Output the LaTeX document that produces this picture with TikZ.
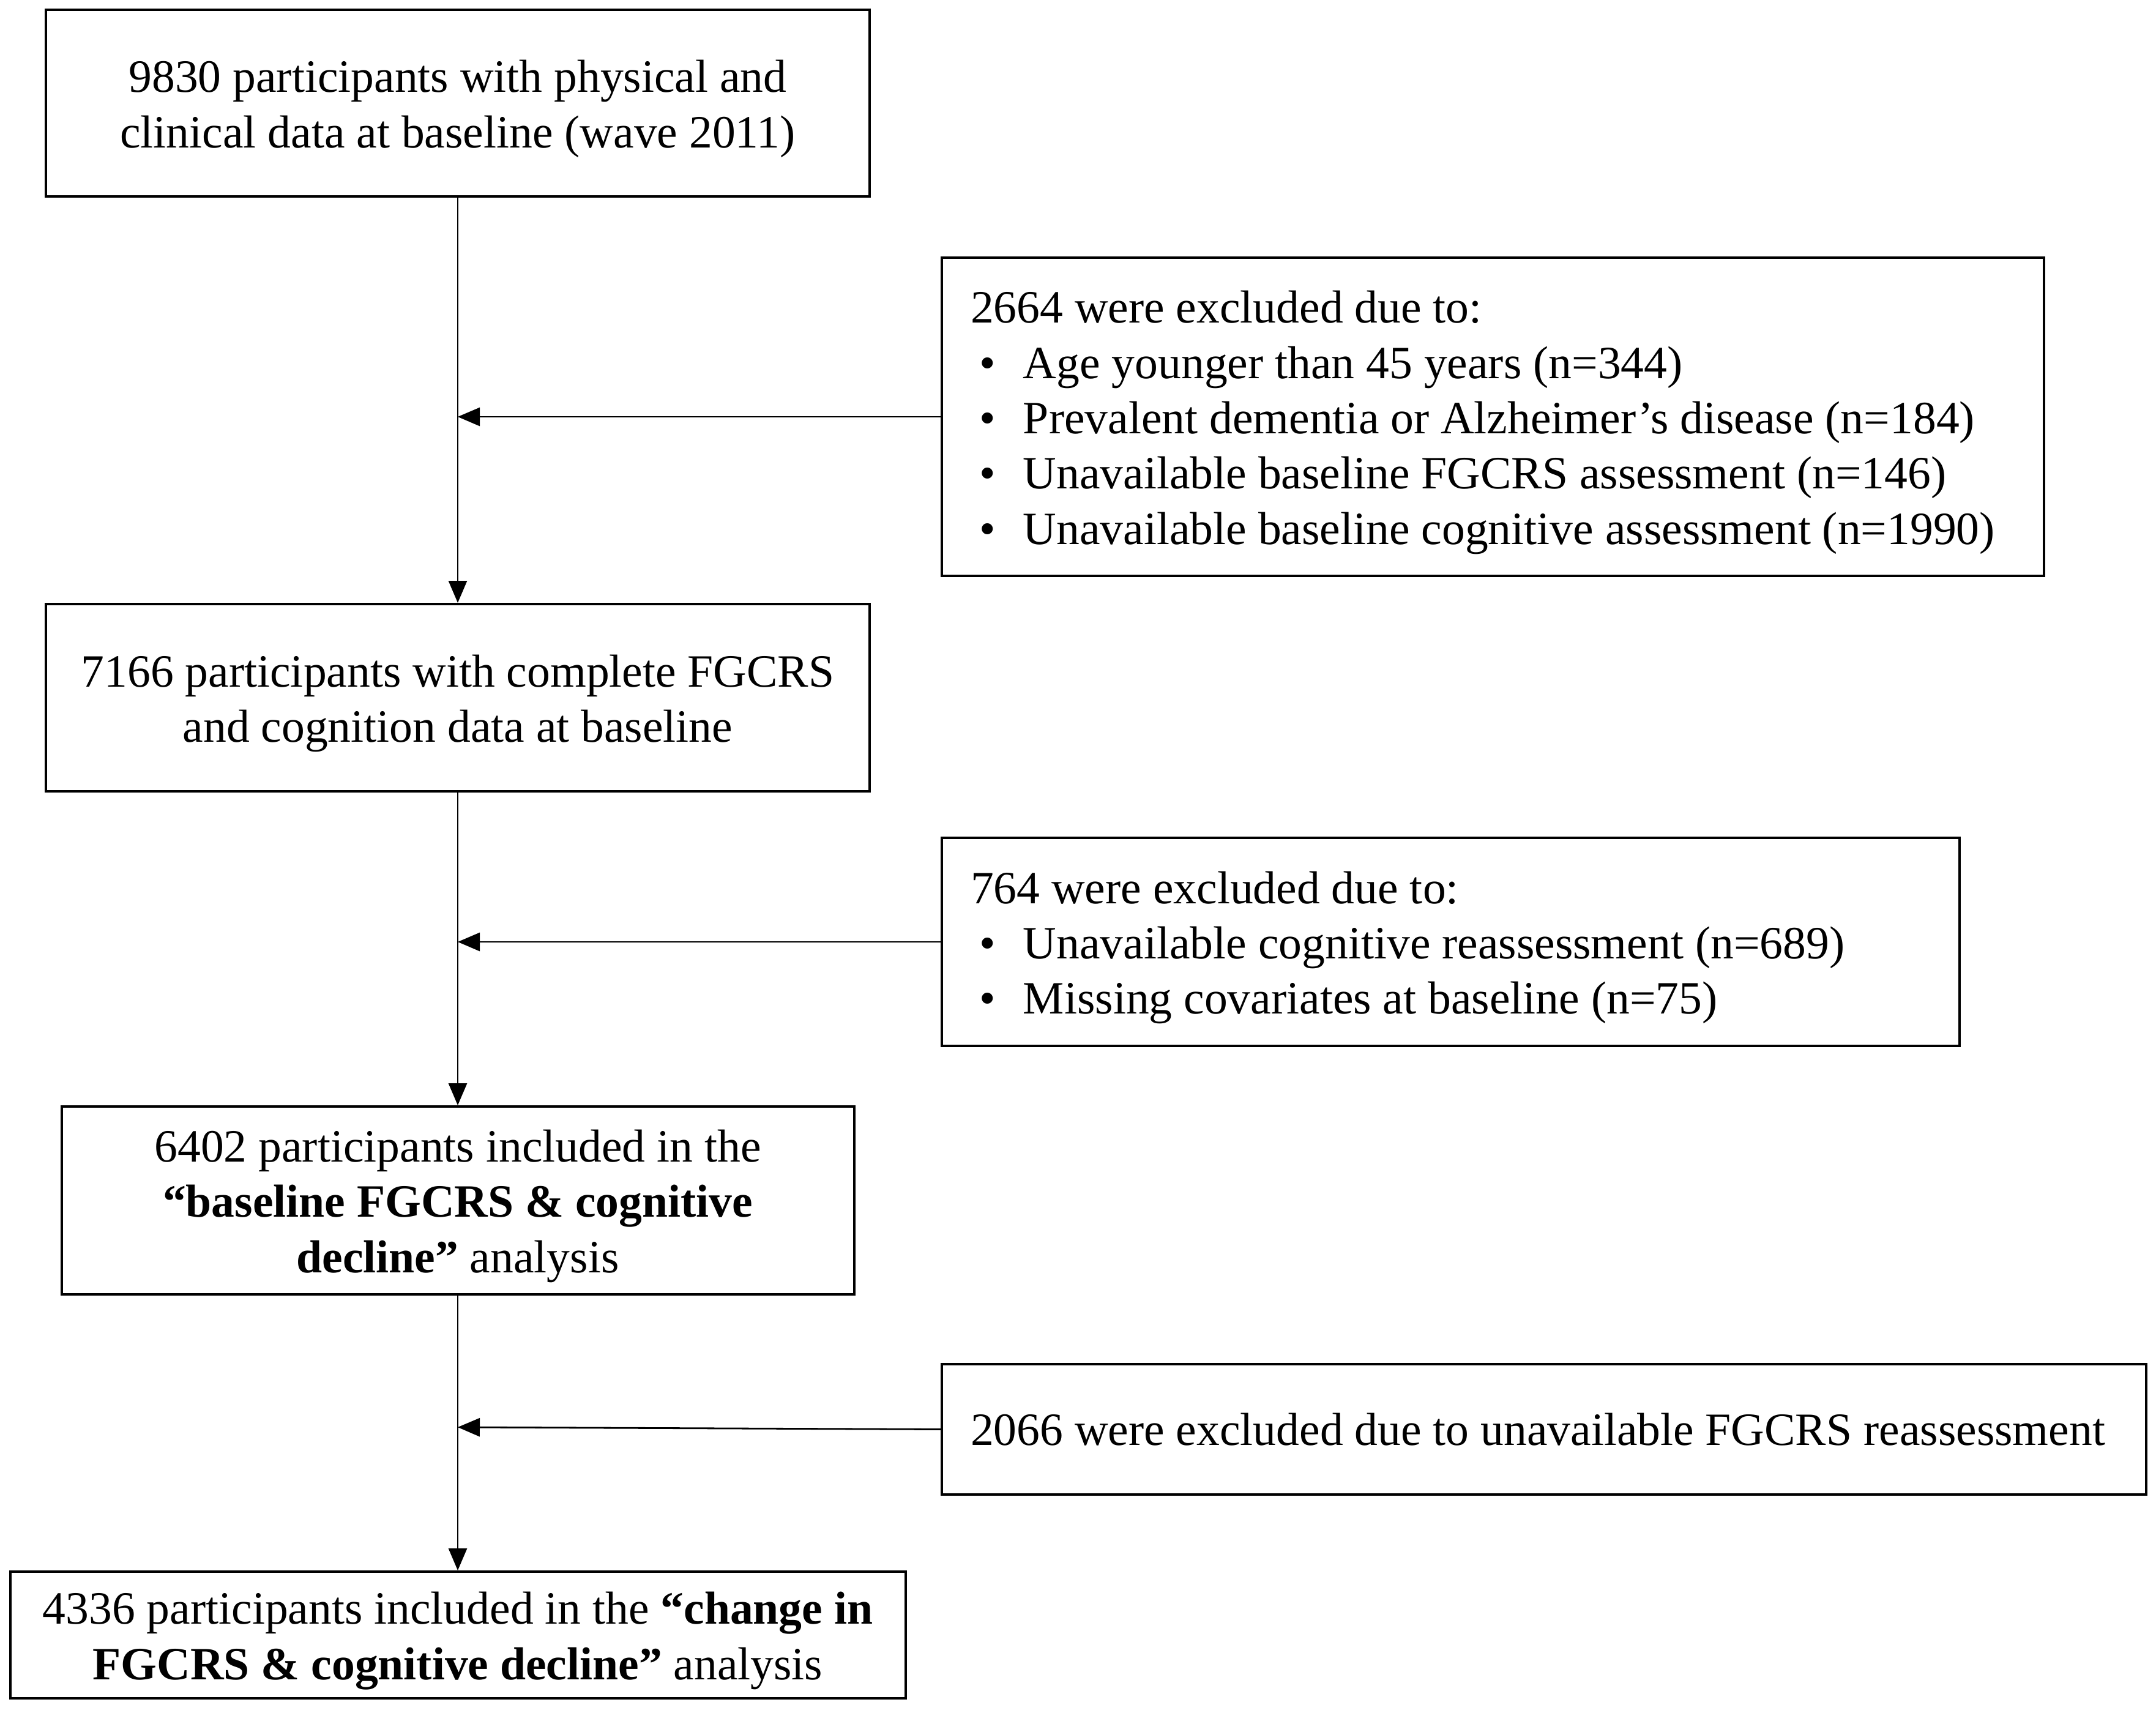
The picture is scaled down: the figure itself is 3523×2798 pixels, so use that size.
\documentclass[tikz,border=0pt]{standalone}
\usepackage{fontspec}
\setmainfont{Liberation Serif}
\usetikzlibrary{arrows.meta}
\begin{document}
\begin{tikzpicture}[x=0.25pt,y=-0.25pt,
  box/.style={draw=black,line width=1pt,inner sep=0pt,align=center,
    font=\fontsize{18.9pt}{22.6pt}\selectfont},
  exbox/.style={draw=black,line width=1pt,inner xsep=11.75pt,inner ysep=0pt,align=flush left,
    font=\fontsize{18.9pt}{22.6pt}\selectfont},
  conn/.style={line width=0.7pt,-{Triangle[length=9pt,width=7.5pt]}}]
\useasboundingbox (0,0) rectangle (3523,2798);
\newcommand{\bul}{\hspace*{3.5pt}\makebox[18pt][l]{•}}
\newcommand{\ts}{\rule{0pt}{17.8pt}}
\node[box,minimum width=336.5pt,minimum height=76.25pt] (b1) at (748,168.5)
  {\ts 9830 participants with physical and\\clinical data at baseline (wave 2011)};
\node[box,minimum width=336.5pt,minimum height=76.5pt] (b3) at (748,1140)
  {\ts 7166 participants with complete FGCRS\\and cognition data at baseline};
\node[box,minimum width=323.75pt,minimum height=76.75pt] (b5) at (748,1961.5)
  {\ts 6402 participants included in the\\\textbf{“baseline FGCRS \& cognitive}\\\textbf{decline”} analysis};
\node[box,minimum width=365.75pt,minimum height=51.75pt] (b7) at (748,2671.5)
  {\ts 4336 participants included in the \textbf{“change in}\\\textbf{FGCRS \& cognitive decline”} analysis};
\node[exbox,text width=426.75pt,minimum height=130pt] (e1) at (2439.5,681)
  {\ts 2664 were excluded due to:\\
   \bul Age younger than 45 years (n=344)\\
   \bul Prevalent dementia or Alzheimer’s disease (n=184)\\
   \bul Unavailable baseline FGCRS assessment (n=146)\\
   \bul Unavailable baseline cognitive assessment (n=1990)};
\node[exbox,text width=392.25pt,minimum height=85pt] (e2) at (2370.5,1539)
  {\ts 764 were excluded due to:\\
   \bul Unavailable cognitive reassessment (n=689)\\
   \bul Missing covariates at baseline (n=75)};
\node[exbox,text width=468.5pt,minimum height=53.25pt] (e3) at (2523,2335.5)
  {2066 were excluded due to unavailable FGCRS reassessment};
\coordinate (j1) at (748,681);
\coordinate (j2) at (748,1539);
\coordinate (j3) at (748,2332);
\draw[conn] (b1.south) -- (b3.north);
\draw[conn] (b3.south) -- (b5.north);
\draw[conn] (b5.south) -- (b7.north);
\draw[conn] (e1.west) -- (j1);
\draw[conn] (e2.west) -- (j2);
\draw[conn] (e3.west) -- (j3);
\end{tikzpicture}
\end{document}
